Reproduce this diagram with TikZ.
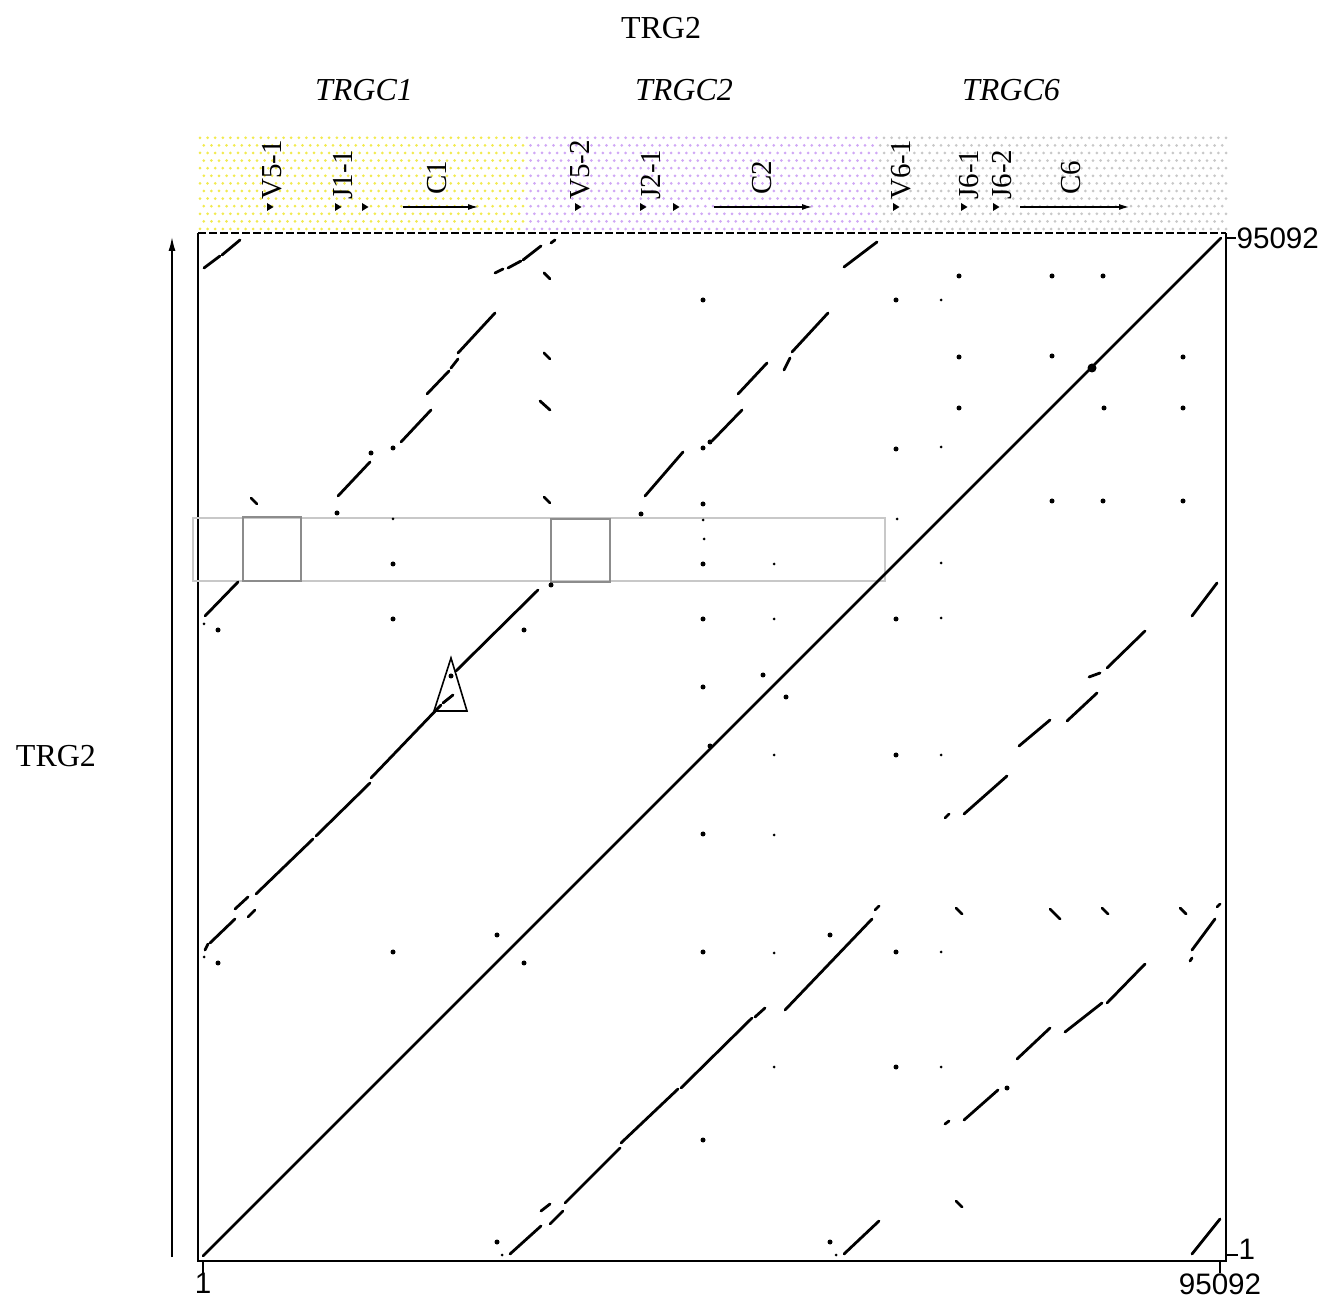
\documentclass[tikz,border=0pt]{standalone}
\usepackage{fontspec}
\setmainfont{Liberation Serif}
\setsansfont{Liberation Sans}
\usetikzlibrary{arrows.meta}
\definecolor{dotyel}{RGB}{242,234,80}
\definecolor{dotpur}{RGB}{208,168,245}
\definecolor{dotgry}{RGB}{200,200,200}
\definecolor{bandgry}{RGB}{200,200,200}
\definecolor{boxgry}{RGB}{140,140,140}
\begin{document}
\begin{tikzpicture}[x=.5pt,y=.5pt,
  hit/.style={line width=1.4pt,line cap=round},
  gene/.style={rotate=90,anchor=west,inner sep=0pt,font=\fontsize{14.5}{14.5}\selectfont},
  axlab/.style={inner sep=0pt,font=\sffamily\fontsize{14.8}{14.8}\selectfont},
  ttl/.style={inner sep=0pt,font=\fontsize{16}{16}\selectfont}]
\useasboundingbox (0,0) rectangle (1337,1301);

\node[ttl] (title) at (661,1273) {TRG2};
\node[ttl] (side) at (56,545) {TRG2};
\node[ttl,font=\fontsize{16}{16}\selectfont\itshape] (c1) at (364,1211) {TRGC1};
\node[ttl,font=\fontsize{16}{16}\selectfont\itshape] (c2) at (684,1211) {TRGC2};
\node[ttl,font=\fontsize{16}{16}\selectfont\itshape] (c6) at (1011,1211) {TRGC6};

\begin{scope}[shift={(198,40)}]
\pgfmathsetmacro{\lato}{1028}
\coordinate (o) at (0,0);
\coordinate (se) at (\lato,0);
\coordinate (ne) at (\lato,\lato);
\coordinate (nw) at (0,\lato);

% dotted band over the plot
\foreach \r in {0,...,12}{
  \pgfmathsetmacro{\yy}{1032+\r*7.6}
  \pgfmathsetmacro{\off}{mod(\r,2)*3.8}
  \foreach \c in {0,...,135}{
    \pgfmathsetmacro{\xx}{2+\c*7.6+\off}
    \ifdim\xx pt<326pt \def\cc{dotyel}\else\ifdim\xx pt<680pt \def\cc{dotpur}\else \def\cc{dotgry}\fi\fi
    \ifdim\xx pt<1031pt \fill[\cc] (\xx,\yy) circle (1.5);\fi
  }
}

% genes
\foreach \gx/\gl in {74/V5-1,145/J1-1,382/V5-2,453/J2-1,703/V6-1,771/J6-1,804/J6-2}
  \node[gene] at (\gx,1061) {\gl};
\foreach \gx/\gl in {239/C1,564/C2,873/C6}
  \node[gene] at (\gx,1066) {\gl};
\foreach \tx in {72,140,167,380,445,478,698,766,798}
  \fill (\tx-3,1050) -- (\tx+3.5,1054) -- (\tx-3,1058) -- cycle;
\foreach \ax/\bx in {205/280,516/614,822/931}
  \draw[line width=.6pt,-{Latex[length=5pt,width=3pt]}] (\ax,1054) -- (\bx,1054);

% frame
\draw[line width=1pt] (nw) -- (o) -- (se) -- (ne);
\draw[line width=1pt,dash pattern=on 4pt off 1.5pt] (nw) -- (ne);

% highlight boxes
\draw[bandgry,line width=1pt] (-5,680) rectangle (687,743);
\draw[boxgry,line width=1pt] (45,680) rectangle (103,744);
\draw[boxgry,line width=1pt] (353,679) rectangle (412,742);

% self match
\draw[hit,line width=1.3pt] (5,5) -- (1023,1023);
\fill (894,893) circle (4.5);

% repeat matches
\foreach \xa/\ya/\xb/\yb in {6/993/22/1005, 24/1006/42/1021,
  297/988/305/992, 310/993/323/1000, 325/1001/343/1015, 353/1018/357/1021,
  140/765/172/799, 203/819/233/851, 229/867/251/890, 253/893/260/902, 260/908/297/948,
  447/765/485/809, 514/820/544/851, 540/867/569/898, 586/891/592/903, 594/909/630/948,
  646/994/679/1019, 7/645/40/679,
  7/311/10/317, 12/318/37/342, 37/352/50/364, 50/344/57/351, 58/367/115/422,
  118/425/172/478, 173/483/243/556, 245/558/255/566, 258/590/340/671,
  312/7/343/35, 343/50/352/57, 352/37/365/50, 367/58/422/113, 423/118/480/172,
  483/173/554/243, 557/244/567/253, 587/251/674/342, 677/351/681/355,
  646/7/681/40, 994/7/1022/42,
  747/443/751/447, 766/447/809/485, 747/137/751/140, 766/141/800/171,
  819/202/852/233, 867/229/904/258, 909/258/947/297,
  992/300/994/303, 994/311/1017/342, 1019/354/1022/357,
  994/645/1019/678, 909/593/947/630, 891/584/902/588, 869/540/899/568, 821/515/852/541,
  342/860/352/851, 852/352/862/342}
  \draw[hit] (\xa,\ya) -- (\xb,\yb);

\foreach \px/\py in {505/961, 195/813, 173/808, 505/813, 512/819, 139/748, 505/757, 443/747,
  195/697, 505/697, 20/631, 195/642, 505/642, 326/631, 505/574, 512/515, 253/585, 353/676,
  20/298, 195/309, 299/326, 326/298, 505/427, 505/309, 505/121, 299/19,
  698/506, 698/309, 698/194, 632/326, 632/19, 809/173,
  761/985, 854/985, 905/985, 698/961, 761/904, 854/905, 985/904, 761/853, 906/853,
  985/853, 698/812, 854/760, 905/760, 985/760, 698/642, 565/586, 588/564}
  \fill (\px,\py) circle (2.5);
\foreach \px/\py in {195/742, 505/741, 506/722, 6/637, 6/304, 304/6, 638/6, 576/506, 743/506,
  576/426, 576/308, 743/309, 576/194, 743/194, 743/961, 743/814, 699/742, 576/697,
  743/698, 576/642, 743/643}
  \fill (\px,\py) circle (1.5);
\foreach \px/\py in {349/985, 349/905, 56/760, 349/761, 761/350, 907/350, 985/350, 761/57}
  \draw[hit] (\px-3,\py+3) -- (\px+3,\py-3);

% marker
\draw[line width=.8pt] (236,550) -- (253,603) -- (269,550) -- cycle;

% axes
\coordinate (ytop) at (-26,1024);
\coordinate (ybot) at (-26,4);
\draw[line width=.75pt,-{Latex[length=7pt,width=3.5pt]}] (ybot) -- (ytop);
\draw[line width=.6pt] (\lato,1023) -- (1038,1023) node[axlab,anchor=west] (ymax) {95092};
\draw[line width=.6pt] (\lato,6) -- (1040,6) node[axlab,anchor=west,yshift=3] (ymin) {1};
\draw[line width=.6pt] (5,0) -- (5,-12) node[axlab,anchor=north] (xmin) {1};
\draw[line width=.6pt] (1022,0) -- (1022,-12) node[axlab,anchor=north] (xmax) {95092};
\end{scope}
\end{tikzpicture}
\end{document}
